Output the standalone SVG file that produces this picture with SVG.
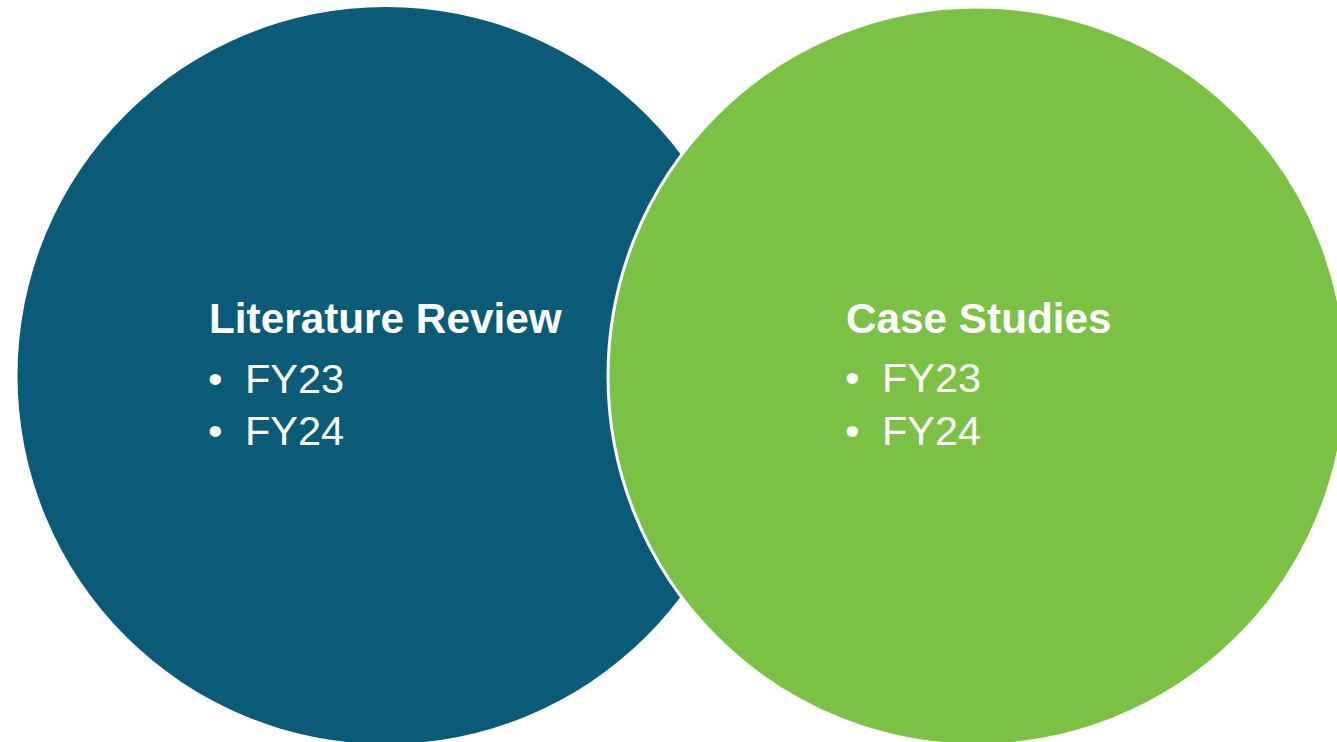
<svg xmlns="http://www.w3.org/2000/svg" width="1337" height="742" viewBox="0 0 1337 742">
<style>
.t{font-family:"Liberation Sans",Arial,sans-serif;fill:#ffffff}
.h{font-weight:bold;font-size:42.3px}
.b{font-size:41.5px}
</style>
<rect width="1337" height="742" fill="#ffffff"/>
<g id="literature-review">
<circle cx="386" cy="375.5" r="368.5" fill="#095B78"/>
<text class="t h" x="209" y="333">Literature Review</text>
<text class="t b" x="208" y="393">•</text>
<text class="t b" x="245" y="393">FY23</text>
<text class="t b" x="208" y="445">•</text>
<text class="t b" x="245" y="445">FY24</text>
</g>
<g id="case-studies">
<circle cx="977" cy="376" r="369" fill="#7BC143" stroke="#ffffff" stroke-width="3"/>
<text class="t h" x="846" y="333">Case Studies</text>
<text class="t b" x="845" y="392">•</text>
<text class="t b" x="882" y="392">FY23</text>
<text class="t b" x="845" y="445">•</text>
<text class="t b" x="882" y="445">FY24</text>
</g>
<g id="connectors"/>
</svg>
